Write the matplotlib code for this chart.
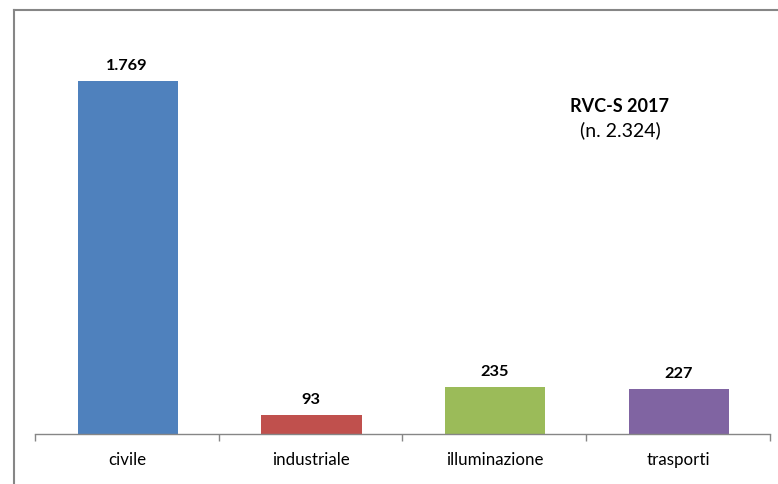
import matplotlib
matplotlib.use("Agg")
import matplotlib.pyplot as plt
from matplotlib.lines import Line2D

categories = ["civile", "industriale", "illuminazione", "trasporti"]
values = [1769, 93, 235, 227]
labels = ["1.769", "93", "235", "227"]
colors = ["#4F81BD", "#C0504D", "#9BBB59", "#8064A2"]

plt.rcParams['font.family'] = ['Lato', 'DejaVu Sans']

W, H = 778, 485
fig = plt.figure(figsize=(W/100, H/100), dpi=100)
fig.patch.set_facecolor("white")

# outer chart border (left and top visible)
fig.add_artist(Line2D([14/W, 14/W], [0, 1 - 11/H], color="#868686", lw=1.5, transform=fig.transFigure))
fig.add_artist(Line2D([14/W, 1], [1 - 11/H, 1 - 11/H], color="#868686", lw=1.5, transform=fig.transFigure))

left, right, bottom, top = 35, 770, 435, 30
ax = fig.add_axes([left/W, 1 - bottom/H, (right-left)/W, (bottom-top)/H])
ymax = 1769 * (bottom - top) / (bottom - 82)
x = list(range(len(categories)))
ax.bar([i + 0.005 for i in x], values, width=0.545, color=colors, zorder=2)
ax.set_xlim(-0.5, len(categories) - 0.5)
ax.set_ylim(0, ymax)
for i, (v, lab) in enumerate(zip(values, labels)):
    ax.annotate(lab, (i, v), xytext=(0, 6.5), textcoords="offset points",
                ha="center", va="bottom", fontsize=11.8, fontweight="bold", color="#000000")

for s in ["top", "right", "left"]:
    ax.spines[s].set_visible(False)
ax.spines["bottom"].set_color("#868686")
ax.spines["bottom"].set_linewidth(1)
ax.set_yticks([])
ax.set_xticks([-0.5, 0.5, 1.5, 2.5, 3.5])
ax.set_xticklabels([])
ax.set_xticks(x, minor=True)
ax.set_xticklabels(categories, minor=True, fontsize=12.2, color="#000000")
ax.tick_params(axis="x", which="major", length=5, color="#868686", width=1)
ax.tick_params(axis="x", which="minor", length=0, pad=12)

fig.text(620/W, 1 - 107/H, "RVC-S 2017", ha="center", va="center", fontsize=13, fontweight="bold")
fig.text(620/W, 1 - 130/H, "(n. 2.324)", ha="center", va="center", fontsize=14)

fig.savefig("out.png", dpi=100, facecolor="white")
